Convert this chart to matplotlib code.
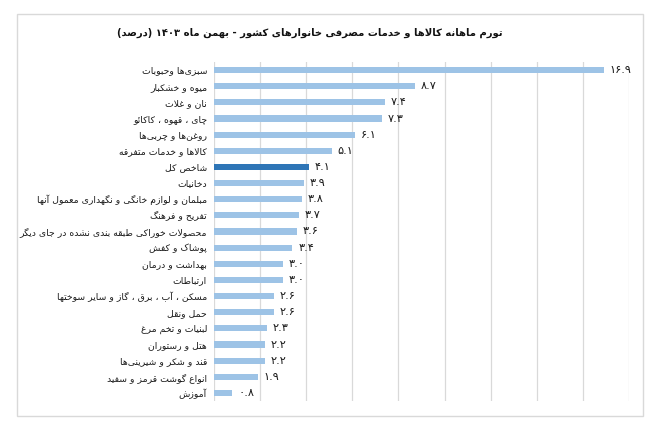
import re
import matplotlib
matplotlib.use("Agg")
import matplotlib.pyplot as plt
from matplotlib.patches import Rectangle

# ---------------- data ----------------
categories = [
    "سبزی‌ها وحبوبات",
    "میوه و خشکبار",
    "نان و غلات",
    "چای ، قهوه ، کاکائو",
    "روغن‌ها و چربی‌ها",
    "کالاها و خدمات متفرقه",
    "شاخص کل",
    "دخانیات",
    "مبلمان و لوازم خانگی و نگهداری معمول آنها",
    "تفریح و فرهنگ",
    "محصولات خوراکی طبقه بندی نشده در جای دیگر",
    "پوشاک و کفش",
    "بهداشت و درمان",
    "ارتباطات",
    "مسکن ، آب ، برق ، گاز و سایر سوختها",
    "حمل ونقل",
    "لبنیات و تخم مرغ",
    "هتل و رستوران",
    "قند و شکر و شیرینی‌ها",
    "انواع گوشت قرمز و سفید",
    "آموزش",
]
values = [16.9, 8.7, 7.4, 7.3, 6.1, 5.1, 4.1, 3.9, 3.8, 3.7, 3.6, 3.4,
          3.0, 3.0, 2.6, 2.6, 2.3, 2.2, 2.2, 1.9, 0.8]
highlight = "شاخص کل"
title = "تورم ماهانه کالاها و خدمات مصرفی خانوارهای کشور - بهمن ماه ۱۴۰۳ (درصد)"

# ---------------- minimal Arabic/Persian shaping ----------------
# letter: (isolated, final, initial, medial); None initial => does not join to next
FORMS = {
    'ء': (0xFE80, None, None, None),
    'آ': (0xFE81, 0xFE82, None, None),
    'أ': (0xFE83, 0xFE84, None, None),
    'ؤ': (0xFE85, 0xFE86, None, None),
    'إ': (0xFE87, 0xFE88, None, None),
    'ئ': (0xFE89, 0xFE8A, 0xFE8B, 0xFE8C),
    'ا': (0xFE8D, 0xFE8E, None, None),
    'ب': (0xFE8F, 0xFE90, 0xFE91, 0xFE92),
    'ة': (0xFE93, 0xFE94, None, None),
    'ت': (0xFE95, 0xFE96, 0xFE97, 0xFE98),
    'ث': (0xFE99, 0xFE9A, 0xFE9B, 0xFE9C),
    'ج': (0xFE9D, 0xFE9E, 0xFE9F, 0xFEA0),
    'ح': (0xFEA1, 0xFEA2, 0xFEA3, 0xFEA4),
    'خ': (0xFEA5, 0xFEA6, 0xFEA7, 0xFEA8),
    'د': (0xFEA9, 0xFEAA, None, None),
    'ذ': (0xFEAB, 0xFEAC, None, None),
    'ر': (0xFEAD, 0xFEAE, None, None),
    'ز': (0xFEAF, 0xFEB0, None, None),
    'س': (0xFEB1, 0xFEB2, 0xFEB3, 0xFEB4),
    'ش': (0xFEB5, 0xFEB6, 0xFEB7, 0xFEB8),
    'ص': (0xFEB9, 0xFEBA, 0xFEBB, 0xFEBC),
    'ض': (0xFEBD, 0xFEBE, 0xFEBF, 0xFEC0),
    'ط': (0xFEC1, 0xFEC2, 0xFEC3, 0xFEC4),
    'ظ': (0xFEC5, 0xFEC6, 0xFEC7, 0xFEC8),
    'ع': (0xFEC9, 0xFECA, 0xFECB, 0xFECC),
    'غ': (0xFECD, 0xFECE, 0xFECF, 0xFED0),
    'ف': (0xFED1, 0xFED2, 0xFED3, 0xFED4),
    'ق': (0xFED5, 0xFED6, 0xFED7, 0xFED8),
    'ك': (0xFED9, 0xFEDA, 0xFEDB, 0xFEDC),
    'ل': (0xFEDD, 0xFEDE, 0xFEDF, 0xFEE0),
    'م': (0xFEE1, 0xFEE2, 0xFEE3, 0xFEE4),
    'ن': (0xFEE5, 0xFEE6, 0xFEE7, 0xFEE8),
    'ه': (0xFEE9, 0xFEEA, 0xFEEB, 0xFEEC),
    'و': (0xFEED, 0xFEEE, None, None),
    'ى': (0xFEEF, 0xFEF0, None, None),
    'ي': (0xFEF1, 0xFEF2, 0xFEF3, 0xFEF4),
    'پ': (0xFB56, 0xFB57, 0xFB58, 0xFB59),
    'چ': (0xFB7A, 0xFB7B, 0xFB7C, 0xFB7D),
    'ژ': (0xFB8A, 0xFB8B, None, None),
    'ک': (0xFB8E, 0xFB8F, 0xFB90, 0xFB91),
    'گ': (0xFB92, 0xFB93, 0xFB94, 0xFB95),
    'ی': (0xFBFC, 0xFBFD, 0xFBFE, 0xFBFF),
}
LAM_ALEF = {'ا': (0xFEFB, 0xFEFC), 'آ': (0xFEF5, 0xFEF6),
            'أ': (0xFEF7, 0xFEF8), 'إ': (0xFEF9, 0xFEFA)}


def joins_next(ch):
    f = FORMS.get(ch)
    return f is not None and f[2] is not None


def shape(text):
    tokens = []
    i = 0
    while i < len(text):
        c = text[i]
        if c == 'ل' and i + 1 < len(text) and text[i + 1] in LAM_ALEF:
            tokens.append(('LA', text[i + 1]))
            i += 2
        else:
            tokens.append(('C', c))
            i += 1
    out = []
    for k, (kind, c) in enumerate(tokens):
        prev = tokens[k - 1] if k > 0 else None
        nxt = tokens[k + 1] if k + 1 < len(tokens) else None
        prev_joins = prev is not None and prev[0] == 'C' and joins_next(prev[1])
        if kind == 'LA':
            iso, fin = LAM_ALEF[c]
            out.append(chr(fin if prev_joins else iso))
            continue
        if c not in FORMS:
            if c == '\u200c':
                continue
            out.append(c)
            continue
        iso, fin, ini, med = FORMS[c]
        next_joinable = nxt is not None and (nxt[0] == 'LA' or nxt[1] in FORMS)
        can_next = ini is not None and next_joinable
        if prev_joins and can_next:
            out.append(chr(med))
        elif prev_joins:
            out.append(chr(fin))
        elif can_next:
            out.append(chr(ini))
        else:
            out.append(chr(iso))
    return ''.join(out)


MIRROR = {'(': ')', ')': '('}


def rtl(text):
    s = shape(text)
    s = s[::-1]
    s = ''.join(MIRROR.get(c, c) for c in s)
    s = re.sub(r'[0-9\u06F0-\u06F9.]+', lambda m: m.group(0)[::-1], s)
    return s


def fa_num(v):
    return f"{v:.1f}".translate(str.maketrans("0123456789", "۰۱۲۳۴۵۶۷۸۹"))


# ---------------- plot ----------------
plt.rcParams['font.family'] = ['DejaVu Sans']
fig = plt.figure(figsize=(6.59, 4.23), dpi=100)
fig.patch.set_facecolor('white')

fig.patches.append(Rectangle((17 / 659, 1 - 416 / 423), (643 - 17) / 659, (416 - 14) / 423,
                             transform=fig.transFigure, fill=False,
                             edgecolor='#D9D9D9', linewidth=1.0))

ax = fig.add_axes([214 / 659, 1 - 401 / 423, (629 - 214) / 659, (401 - 62) / 423])
y = list(range(len(categories)))
colors = ['#2E75B6' if c == highlight else '#9DC3E6' for c in categories]
ax.barh(y, values, height=0.38, color=colors, zorder=3)
ax.set_xlim(0, 18)
ax.set_ylim(len(categories) - 0.5, -0.5)
ax.set_xticks(range(0, 19, 2))
ax.xaxis.grid(True, color='#D9D9D9', linewidth=0.9, zorder=0)
ax.tick_params(axis='x', length=0, labelbottom=False)
ax.tick_params(axis='y', length=0, pad=5)
ax.set_yticks(y)
ax.set_yticklabels([rtl(c) for c in categories], fontsize=6.7, color='#1a1a1a')
for sp in ax.spines.values():
    sp.set_visible(False)

for yi, v in zip(y, values):
    ax.text(v + 0.25, yi, fa_num(v), va='center', ha='left', fontsize=8.2,
            color='#1a1a1a', zorder=4)

fig.text(310 / 659, 1 - 33 / 423, rtl(title), ha='center', va='center',
         fontsize=7.2, fontweight='bold', color='#111111')

fig.savefig('out.png', dpi=100, facecolor='white')
